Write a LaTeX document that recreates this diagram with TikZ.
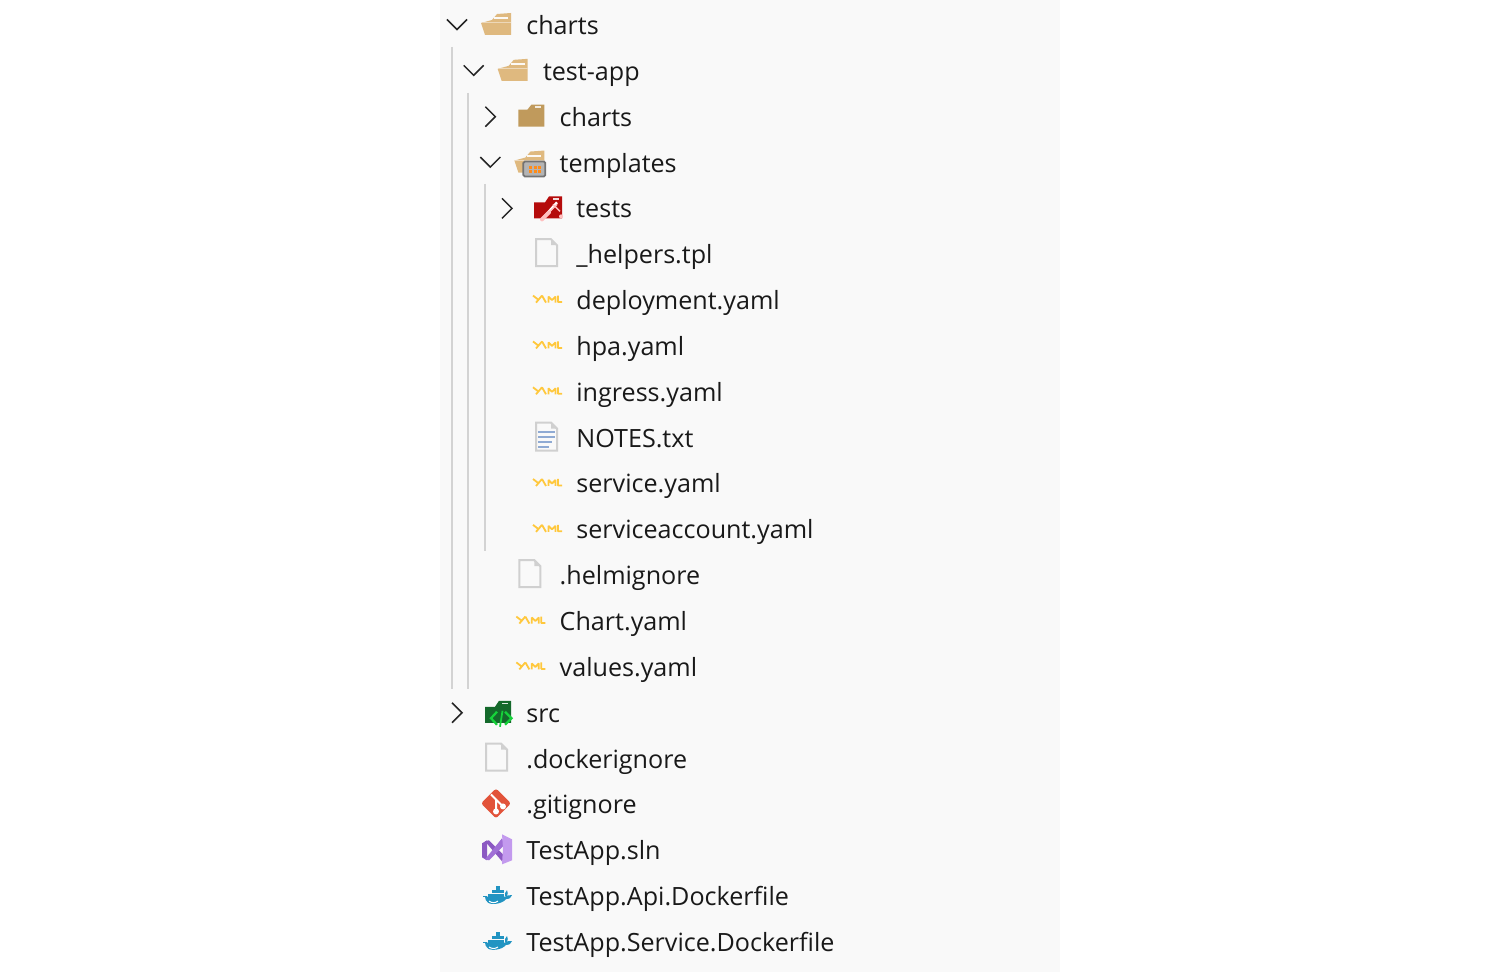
\documentclass[tikz,border=0pt]{standalone}
\usepackage{fontspec}
\setmainfont{Open Sans}
\definecolor{panelBg}{HTML}{F9F9F9}
\definecolor{guideGrey}{HTML}{D3D3D3}
\definecolor{folderOpen}{HTML}{DFB97F}
\definecolor{folderShut}{HTML}{C09A5C}
\definecolor{fileEdge}{HTML}{D0D0D0}
\definecolor{yamlGold}{HTML}{FFC83D}
\definecolor{noteBlue}{HTML}{8FAAD3}
\definecolor{testRed}{HTML}{B50C0C}
\definecolor{srcGreen}{HTML}{14692B}
\definecolor{codeGreen}{HTML}{16D23A}
\definecolor{gitRed}{HTML}{E2533A}
\definecolor{vsDark}{HTML}{8B58C2}
\definecolor{vsMid}{HTML}{A06FD6}
\definecolor{vsLight}{HTML}{C39AEE}
\definecolor{dockBlue}{HTML}{2294C2}
\definecolor{tplGrey}{HTML}{B4B4B4}
\tikzset{
	x=0.02cm, y=-0.02cm,
	rowlabel/.style={anchor=base west, inner sep=0pt, font=\fontsize{14.3}{16}\selectfont, text=black!90},
	guide/.style={draw=guideGrey, line width=0.04cm},
	chevron/.style={draw=black!85, line width=0.03cm, line join=miter},
	pics/opendir/.style={code={
		\fill[folderOpen] (-12,10) -- (14,10) -- (14,-12) -- (0,-11) -- (-5,-5) -- (-16,-2) -- cycle;
		\draw[white!92!folderOpen, line width=0.04cm] (-3,-6.5) -- (11,-6.5);
		\draw[white!45!folderOpen, line width=0.02cm] (-15,-2) -- (14,-2);
	}},
	pics/shutdir/.style={code={
		\fill[folderShut] (-12,10) -- (14,10) -- (14,-12) -- (1,-12) -- (-3,-7) -- (-12,-7) -- cycle;
		\draw[white!80!folderShut, line width=0.03cm] (5,-9.5) -- (11,-9.5);
	}},
	pics/tpldir/.style={code={
		\pic {opendir};
		\fill[fill=tplGrey, draw=black!55, rounded corners=0.03cm, line width=0.035cm] (-7,-1) rectangle (15,14);
		\foreach \gx in {-1,3.5,8} \foreach \gy in {3,7.5} \fill[orange!90] (\gx,\gy) rectangle +(3,3);
	}},
	pics/testdir/.style={code={
		\fill[testRed] (-13,10) -- (15,10) -- (15,-12) -- (2,-12) -- (-2,-6) -- (-13,-6) -- cycle;
		\draw[white!85!testRed, line width=0.03cm] (6,-9.5) -- (12,-9.5);
		\draw[white, line width=0.05cm] (-5,11) -- (10,-6);
		\draw[red!25, line width=0.08cm, line cap=round] (-5,11) -- (2,4);
		\draw[red!25, line width=0.03cm] (2,4) -- (10,-4) (6,-4) -- (13,3);
		\fill[red!25] (14,8) circle (2);
	}},
	pics/plainfile/.style={code={
		\draw[draw=fileEdge, fill=panelBg, line width=0.04cm] (-11,-15) -- (4,-15) -- (10,-9) -- (10,12) -- (-11,12) -- cycle;
		\fill[fileEdge] (4,-15) -- (10,-9) -- (4,-9) -- cycle;
	}},
	pics/yamlfile/.style={code={
		\draw[draw=yamlGold, line width=0.036cm, line join=bevel]
			(-14,-4.5) -- (-9.5,-1) (-5,-4.5) -- (-11,2.5)
			(-5,-4.5) -- (-1,2.5)
			(1.5,2.5) -- (1.5,-3.5) -- (5,0) -- (8.5,-3.5) -- (8.5,2.5)
			(11,-4.5) -- (11,2) -- (15,2);
	}},
	pics/notesfile/.style={code={
		\draw[draw=fileEdge, fill=panelBg, line width=0.04cm] (-11,-15) -- (4,-15) -- (10,-9) -- (10,13) -- (-11,13) -- cycle;
		\fill[fileEdge] (4,-15) -- (10,-9) -- (4,-9) -- cycle;
		\foreach \ly/\lx in {-6/8, -1/8, 4/5, 9/2}
			\draw[noteBlue, line width=0.04cm] (-9,\ly) -- (\lx,\ly);
	}},
	pics/srcdir/.style={code={
		\fill[srcGreen] (-12,10) -- (14,10) -- (14,-12) -- (2,-12) -- (-2,-6) -- (-12,-6) -- cycle;
		\draw[white!85!srcGreen, line width=0.03cm] (5,-9.5) -- (11,-9.5);
		\draw[codeGreen, line width=0.045cm] (0,-1) -- (-6,5.5) -- (0,12) (8,-1) -- (14.5,5.5) -- (8,12);
		\draw[codeGreen, line width=0.035cm] (5.5,-2) -- (3,14);
	}},
	pics/gitfile/.style={code={
		\fill[gitRed, rounded corners=0.05cm] (-16,-1) -- (-1,-16) -- (14,-1) -- (-1,14) -- cycle;
		\draw[white, line width=0.04cm] (-6,-10) -- (-1,-5) -- (-1,7) (-1,-5) -- (6,2);
		\fill[white] (-1,7) circle (3) (6,2) circle (3);
	}},
	pics/vsfile/.style={code={
		\fill[vsDark] (-15,-7) -- (-10,-10) -- (-10,10) -- (-15,7) -- cycle;
		\fill[vsDark] (-12,-9) -- (-8,-10) -- (8,6) -- (5,11) -- cycle;
		\fill[vsMid] (-12,9) -- (-8,10) -- (8,-6) -- (5,-12) -- cycle;
		\fill[vsLight] (5,-16) -- (15,-11) -- (15,10) -- (5,14) -- (6,-2) -- cycle;
	}},
	pics/dockerfile/.style={code={
		\foreach \cx/\cy in {-9/-2.5,-5/-2.5,-1/-2.5,3/-2.5,-5/-6.5,-1/-6.5,3/-6.5,-1/-10}
			\fill[dockBlue] (\cx,\cy) rectangle +(3.5,3.5);
		\fill[dockBlue] (-12,0.5) -- (8,0.5) .. controls (10,-1) and (12,-1) .. (15,-1) .. controls (13,3) and (11,3) .. (9,3) .. controls (5,8) and (-6,9) .. (-9,6.5) .. controls (-11,5) and (-12,3) .. (-12,0.5) -- cycle;
		\draw[dockBlue, line width=0.02cm] (-14,0.5) -- (-10,0.5);
		\fill[dockBlue] (8,-3) .. controls (9,-5) and (9,-5) .. (10,-6) .. controls (11,-4) and (11,-2) .. (10,0) -- (8,0) -- cycle;
		\draw[white, line width=0.02cm] (-8,5) .. controls (-5,7) and (-2,7) .. (1,5);
	}},
	pics/chevopen/.style={code={\draw[chevron] (-10,-5.5) -- (0,4.5) -- (10,-5.5);}},
	pics/chevshut/.style={code={\draw[chevron] (-5,-10) -- (5,0) -- (-5,10);}},
	pics/chevnone/.style={code={}}
}
\begin{document}
\begin{tikzpicture}
	\useasboundingbox (0,0) rectangle (1500,972);
	% panel
	\fill[panelBg] (440,0) rectangle (1060,972);
	% tree rows: label / level / icon / chevron
	\foreach \label/\level/\kind/\chev [count=\index] in {
		charts/0/opendir/chevopen,
		test-app/1/opendir/chevopen,
		charts/2/shutdir/chevshut,
		templates/2/tpldir/chevopen,
		tests/3/testdir/chevshut,
		\_helpers.tpl/3/plainfile/chevnone,
		deployment.yaml/3/yamlfile/chevnone,
		hpa.yaml/3/yamlfile/chevnone,
		ingress.yaml/3/yamlfile/chevnone,
		NOTES.txt/3/notesfile/chevnone,
		service.yaml/3/yamlfile/chevnone,
		serviceaccount.yaml/3/yamlfile/chevnone,
		.helmignore/2/plainfile/chevnone,
		Chart.yaml/2/yamlfile/chevnone,
		values.yaml/2/yamlfile/chevnone,
		src/0/srcdir/chevshut,
		.dockerignore/0/plainfile/chevnone,
		.gitignore/0/gitfile/chevnone,
		TestApp.sln/0/vsfile/chevnone,
		TestApp.Api.Dockerfile/0/dockerfile/chevnone,
		TestApp.Service.Dockerfile/0/dockerfile/chevnone}
	{
		\pgfmathsetmacro{\rowY}{25+(\index-1)*45.85}
		\pgfmathsetmacro{\rowX}{16.67*\level}
		\pic at (457+\rowX,\rowY) {\chev};
		\pic at (497+\rowX,\rowY) {\kind};
		\node[rowlabel] (row_\index) at (526+\rowX,\rowY+9.5) {\label};
	}
	% indent guides
	\coordinate (guide_a_top) at (452,47);
	\coordinate (guide_a_end) at (452,689);
	\coordinate (guide_b_top) at (468,93);
	\coordinate (guide_b_end) at (468,689);
	\coordinate (guide_c_top) at (485,184);
	\coordinate (guide_c_end) at (485,551);
	\foreach \which in {a,b,c}
	{
		\draw[guide] (guide_\which_top) -- (guide_\which_end);
	}
\end{tikzpicture}
\end{document}
